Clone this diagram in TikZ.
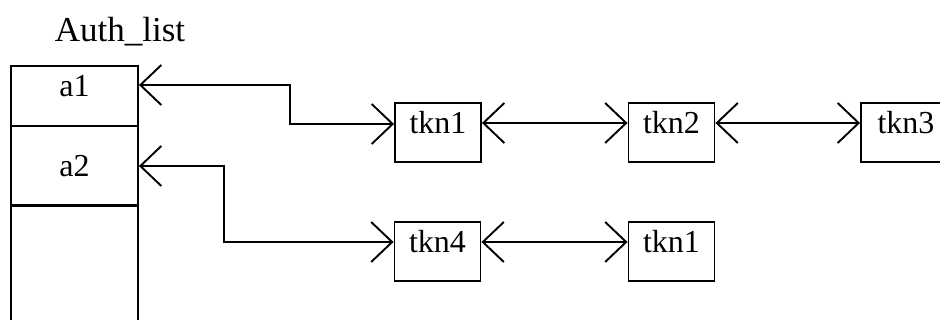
\documentclass[tikz,border=0pt]{standalone}
\usepackage{fontspec}
\setmainfont{Liberation Serif}
\usetikzlibrary{arrows.meta}
\begin{document}
\begin{tikzpicture}[x=1pt,y=-1pt,
  every node/.style={font=\fontsize{32}{38}\selectfont},
  cell/.style={draw, line width=1.9pt, minimum width=127pt, inner sep=0pt},
  tkn/.style={draw, line width=1.9pt, minimum width=86pt, inner xsep=2pt,
    inner ysep=10pt, text height=21pt, text depth=18pt, anchor=base},
  barb/.tip={Straight Barb[length=21pt,width=40pt]},
  link/.style={line width=1.9pt, barb-barb}
]
\useasboundingbox (0,0) rectangle (940,320);
\clip (0,0) rectangle (940,320);

% list header and its cells
\node[anchor=base, font=\fontsize{35}{40}\selectfont] (title) at (120,42) {Auth\_list};
\node[cell, anchor=base, text height=31pt, text depth=29pt] (a1) at (74.5,97) {a1};
\node[cell, anchor=base, text height=51pt, text depth=28pt] (a2) at (74.5,177) {a2};
\node[cell, anchor=north, minimum height=150pt] (a3) at (74.5,205) {};

% token chains
\node[tkn] (tkn1)  at (438,134)   {tkn1};
\node[tkn] (tkn2)  at (671.5,134) {tkn2};
\node[tkn, minimum width=90pt] (tkn3) at (906,134) {tkn3};
\node[tkn] (tkn4)  at (437.5,253) {tkn4};
\node[tkn] (tkn1b) at (671.5,253) {tkn1};

% links
\draw[link] ([yshift=12pt]a1.base east) -- ++(151,0) |- ([yshift=10pt]tkn1.base west);
\draw[link] ([yshift=11pt]a2.base east) -- ++(85,0) |- ([yshift=11pt]tkn4.base west);
\draw[link] ([yshift=11pt]tkn1.base east) -- ([yshift=11pt]tkn2.base west);
\draw[link] ([yshift=11pt]tkn2.base east) -- ([yshift=11pt]tkn3.base west);
\draw[link] ([yshift=11pt]tkn4.base east) -- ([yshift=11pt]tkn1b.base west);
\end{tikzpicture}
\end{document}
